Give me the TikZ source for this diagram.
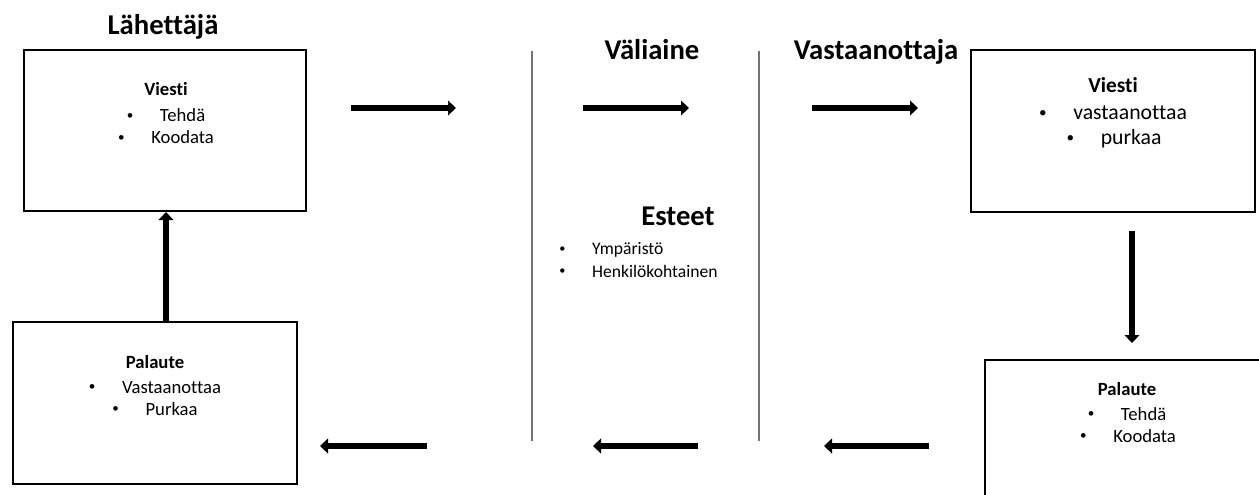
\documentclass[tikz,border=0pt]{standalone}
\usepackage{fontspec}
\setmainfont{Carlito}[Ligatures={NoCommon}]
\usetikzlibrary{arrows.meta}
\newcommand{\fs}[1]{\fontsize{#1}{#1}\selectfont}
\newcommand{\bul}[1]{\raisebox{0.12em}{\scalebox{0.7}{•}}\hspace{20pt}#1}
\begin{document}
\begin{tikzpicture}[x=0.75pt,y=-0.75pt,
  box/.style={draw=black, line width=1.6pt, inner sep=0pt},
  title/.style={font=\fs{21.5}\bfseries, anchor=base, inner sep=0pt},
  head/.style={font=\fs{14}\bfseries, anchor=base, inner sep=0pt},
  item/.style={font=\fs{14}, anchor=base, inner sep=0pt},
  bighead/.style={font=\fs{16}\bfseries, anchor=base, inner sep=0pt},
  bigitem/.style={font=\fs{16.3}, anchor=base, inner sep=0pt},
  smallitem/.style={font=\fs{13.2}, anchor=base west, inner sep=0pt},
  flow/.style={line width=4.2pt, -{Triangle[length=6pt,width=11pt]}},
  divider/.style={draw=gray!90!black, line width=0.9pt}]
\useasboundingbox (0,0) rectangle (1259,495);
\begin{scope}
\clip (0,0) rectangle (1259,495);
% boxes
\node[box, minimum width=282*0.75pt, minimum height=161*0.75pt] (sender) at (165,130.5) {};
\node[box, minimum width=284*0.75pt, minimum height=162*0.75pt] (sfeed) at (155,403) {};
\node[box, minimum width=284*0.75pt, minimum height=162*0.75pt] (receiver) at (1113,131) {};
\node[box, minimum width=284*0.75pt, minimum height=162*0.75pt] (rfeed) at (1127,441) {};
\end{scope}
% titles
\node[title] (tsender) at (163,35) {Lähettäjä};
\node[title] (tmedium) at (652,60) {Väliaine};
\node[title] (treceiver) at (876,60) {Vastaanottaja};
\node[title] (tnoise) at (678,226) {Esteet};
\node[smallitem] (n1) at (559,255) {\bul{Ympäristö}};
\node[smallitem] (n2) at (559,277) {\bul{Henkilökohtainen}};
% sender box text
\node[head] (s0) at (166,96) {Viesti};
\node[item] (s1) at (166,122) {\bul{Tehdä}};
\node[item] (s2) at (166,144) {\bul{Koodata}};
% sender feedback text
\node[head] (f0) at (155,368) {Palaute};
\node[item] (f1) at (155,393) {\bul{Vastaanottaa}};
\node[item] (f2) at (155,415) {\bul{Purkaa}};
% receiver text
\node[bighead] (r0) at (1113,93) {Viesti};
\node[bigitem] (r1) at (1113,120) {\bul{vastaanottaa}};
\node[bigitem] (r2) at (1114,145) {\bul{purkaa}};
% receiver feedback text
\node[head] (g0) at (1127,395) {Palaute};
\node[item] (g1) at (1127,420) {\bul{Tehdä}};
\node[item] (g2) at (1128,442) {\bul{Koodata}};
% dividers
\coordinate (d1a) at (532,51); \coordinate (d1b) at (532,441);
\coordinate (d2a) at (759,51); \coordinate (d2b) at (759,441);
\draw[divider] (d1a) -- (d1b);
\draw[divider] (d2a) -- (d2b);
% top arrows
\coordinate (a1s) at (351,108); \coordinate (a1e) at (456,108);
\coordinate (a2s) at (583,108); \coordinate (a2e) at (689,108);
\coordinate (a3s) at (812,108); \coordinate (a3e) at (918,108);
\draw[flow] (a1s) -- (a1e);
\draw[flow] (a2s) -- (a2e);
\draw[flow] (a3s) -- (a3e);
% bottom arrows
\coordinate (b1s) at (929,446); \coordinate (b1e) at (824,446);
\coordinate (b2s) at (698,446); \coordinate (b2e) at (593,446);
\coordinate (b3s) at (427,446); \coordinate (b3e) at (320,446);
\draw[flow] (b1s) -- (b1e);
\draw[flow] (b2s) -- (b2e);
\draw[flow] (b3s) -- (b3e);
% vertical arrows
\draw[flow] (sfeed.north -| 166,0) -- (sender.south -| 166,0);
\coordinate (vds) at (1132,231); \coordinate (vde) at (1132,343);
\draw[flow] (vds) -- (vde);
\end{tikzpicture}
\end{document}
